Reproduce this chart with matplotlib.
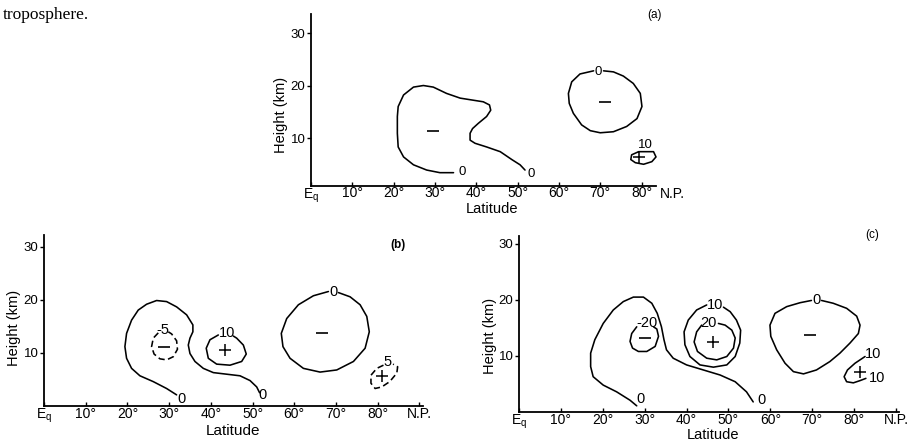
import matplotlib
matplotlib.use('Agg')
import matplotlib.pyplot as plt

plt.rcParams['font.family'] = ['Liberation Sans', 'DejaVu Sans']

# --- contour outlines, (latitude in deg, height in km) ---

# panel (a)
a_zero_west = [(34.5, 3.4), (31.2, 3.4), (28.0, 3.9), (24.8, 4.9), (22.4, 6.4), (21.1, 8.3),
               (20.9, 10.9), (20.9, 14.1), (21.1, 16.0), (22.4, 18.2), (24.8, 19.7), (27.2, 20.0),
               (29.6, 19.7), (32.8, 18.5), (36.1, 17.6), (39.3, 17.2), (41.7, 16.9), (43.2, 16.3),
               (43.5, 15.3), (42.5, 14.1), (40.5, 12.8), (39.1, 11.8), (38.5, 10.9), (38.5, 9.6),
               (39.7, 9.0), (42.5, 8.3), (45.8, 7.4), (48.6, 5.9), (50.6, 4.9), (51.8, 3.9)]
a_zero_east = [(68.4, 22.8), (65.1, 22.2), (63.1, 20.7), (62.3, 18.5), (62.5, 16.6), (63.5, 14.7),
               (65.5, 12.5), (67.6, 11.4), (70.0, 11.0), (73.2, 11.2), (76.4, 12.2), (78.9, 13.7),
               (80.1, 16.0), (79.7, 18.5), (78.0, 20.4), (75.6, 21.8), (73.2, 22.6), (70.8, 22.8)]
a_plus10 = [(79.3, 7.4), (77.6, 6.8), (77.4, 5.9), (78.5, 5.3), (80.5, 5.0), (82.5, 5.5),
            (83.5, 6.4), (82.9, 7.4), (79.3, 7.4)]
a_labels = [(36.5, 3.5, '0'), (53.4, 3.1, '0'), (69.6, 22.6, '0'), (81.0, 8.6, '10')]
a_minus = [(29.6, 11.4), (71.2, 16.8)]
a_plus = [(79.3, 6.4)]

# panel (b)
b_zero_west = [(31.8, 2.1), (29.4, 3.3), (26.2, 4.6), (23.0, 5.7), (21.0, 7.1), (19.8, 9.0),
               (19.4, 11.2), (19.8, 13.7), (21.0, 16.2), (22.6, 18.1), (24.6, 19.2), (27.0, 19.9),
               (29.4, 19.7), (31.8, 18.7), (34.2, 17.2), (35.7, 15.3), (35.7, 14.0), (35.0, 12.8),
               (34.6, 11.5), (35.0, 9.9), (36.2, 8.4), (38.2, 7.1), (40.6, 6.3), (43.8, 6.0),
               (47.0, 5.7), (49.4, 4.8), (51.0, 3.6), (51.7, 2.5)]
b_minus5 = [(27.4, 13.8), (26.2, 12.8), (25.8, 11.2), (26.4, 9.8), (27.8, 8.9), (29.4, 8.7),
            (31.0, 9.3), (32.0, 10.7), (31.8, 12.3), (30.6, 13.6), (29.8, 14.0)]
b_plus10 = [(41.8, 13.4), (39.8, 12.5), (38.9, 10.9), (39.4, 9.0), (41.4, 7.9), (44.6, 7.7),
            (47.4, 8.4), (48.5, 9.8), (47.8, 11.5), (46.2, 12.8), (45.4, 13.2)]
b_zero_east = [(68.2, 21.6), (64.6, 20.8), (61.0, 19.1), (58.2, 16.5), (56.9, 13.7), (57.3, 11.2),
               (59.0, 9.0), (62.2, 7.1), (66.2, 6.4), (70.2, 6.8), (74.2, 8.4), (77.0, 10.9),
               (78.0, 14.0), (77.4, 16.9), (75.8, 19.1), (73.4, 20.6), (70.6, 21.4)]
b_plus5 = [(81.4, 7.7), (79.8, 7.1), (78.4, 5.8), (78.4, 4.3), (79.4, 3.3), (81.0, 3.6),
           (82.9, 4.6), (84.6, 6.2), (84.8, 7.4), (83.7, 7.9)]
b_labels = [(33.0, 1.4, '0'), (52.5, 2.1, '0'), (28.6, 14.3, '-5'), (43.8, 13.8, '10'),
            (69.4, 21.6, '0'), (82.4, 8.3, '5')]
b_minus = [(28.8, 11.2), (66.6, 13.7)]
b_plus = [(43.4, 10.6), (81.0, 5.7)]

# panel (c)
c_zero_west = [(28.1, 1.1), (26.5, 2.1), (23.3, 3.6), (20.1, 4.8), (17.7, 6.3), (17.1, 8.1),
               (17.1, 10.5), (18.1, 12.9), (20.1, 15.8), (22.5, 18.2), (24.9, 19.7), (27.3, 20.5),
               (29.7, 20.5), (31.7, 19.4), (33.0, 17.6), (34.0, 15.2), (34.6, 12.9), (35.2, 11.1),
               (36.8, 9.6), (40.0, 8.4), (44.0, 7.5), (48.0, 6.6), (51.6, 5.4), (54.3, 3.6),
               (55.9, 1.8)]
c_minus20 = [(28.1, 15.2), (26.9, 14.0), (26.5, 12.6), (27.1, 11.4), (28.5, 10.8), (30.5, 10.8),
             (32.5, 11.7), (33.3, 13.5), (32.9, 14.8), (32.1, 15.2)]
c_plus10 = [(44.8, 19.1), (42.4, 18.2), (40.4, 16.4), (39.4, 14.3), (39.6, 12.0), (40.8, 9.9),
            (43.2, 8.4), (46.4, 8.0), (49.6, 8.4), (51.6, 9.9), (52.7, 12.3), (52.9, 14.6),
            (51.9, 16.4), (50.4, 17.9), (48.8, 18.7)]
c_plus20 = [(43.6, 15.5), (42.4, 14.3), (41.8, 12.5), (42.6, 10.8), (44.8, 9.6), (47.2, 9.3),
            (49.6, 9.9), (51.2, 11.4), (51.6, 13.2), (50.8, 14.6), (49.2, 15.5), (47.6, 15.8)]
c_zero_east = [(69.8, 19.9), (67.1, 19.5), (63.9, 18.8), (61.1, 17.6), (59.9, 15.5), (60.1, 13.5),
               (61.5, 11.1), (63.5, 8.7), (65.5, 7.2), (67.9, 6.8), (71.0, 7.5), (74.2, 9.0),
               (76.6, 10.5), (79.0, 12.3), (81.0, 14.0), (81.4, 15.5), (80.6, 17.1), (78.2, 18.5),
               (75.0, 19.4), (72.2, 19.9)]
c_plus10_np = [(82.6, 9.9), (80.2, 8.7), (78.4, 7.5), (77.6, 6.3), (78.2, 5.4), (79.8, 5.2),
               (81.4, 5.6), (82.8, 6.0)]
c_labels = [(28.9, 2.3, '0'), (57.9, 2.1, '0'), (30.5, 15.8, '-20'), (46.8, 19.1, '10'),
            (45.2, 15.8, '20'), (71.0, 20.0, '0'), (84.6, 10.4, '10'), (85.4, 6.0, '10')]
c_minus = [(30.1, 13.2), (69.5, 13.8)]
c_plus = [(46.4, 12.4), (81.4, 7.2)]

lat_ticks = [0, 10, 20, 30, 40, 50, 60, 70, 80]
lat_labels = ['E$_\\mathregular{q}$', '10°', '20°', '30°', '40°', '50°', '60°', '70°', '80°']
height_ticks = [10, 20, 30]

TICK_SIZE = 10

W, H = 912, 441
fig = plt.figure(figsize=(W / 100, H / 100), dpi=100)


def px_axes(left, right, top, bottom):
    return fig.add_axes([left / W, 1 - bottom / H, (right - left) / W, (bottom - top) / H])


def fig_text(x, y, s, **kw):
    fig.text(x / W, 1 - y / H, s, **kw)


def setup(ax, xmax, ylim, np_tick):
    ax.set_xlim(0, xmax)
    ax.set_ylim(*ylim)
    for side in ['top', 'right']:
        ax.spines[side].set_visible(False)
    for side in ['left', 'bottom']:
        ax.spines[side].set_linewidth(1.3)
    ticks, labels = list(lat_ticks), list(lat_labels)
    if np_tick:
        ticks.append(90)
        labels.append('N.P.')
    ax.set_xticks(ticks, labels)
    ax.set_yticks(height_ticks)
    ax.tick_params(axis='x', direction='in', length=3, width=1, pad=0.5, labelsize=TICK_SIZE)
    ax.tick_params(axis='y', direction='out', length=3, width=1, pad=1, labelsize=9.5)
    ax.patch.set_visible(False)


def draw(ax, curves, labels, minus, plus, dashed=(), lsize=10.5):
    for c in curves:
        ls = (0, (4, 2.2)) if any(c is d for d in dashed) else '-'
        ax.plot([p[0] for p in c], [p[1] for p in c], color='black', lw=1.15, ls=ls,
                solid_joinstyle='round', solid_capstyle='round', clip_on=False)
    for x, y, s in labels:
        ax.text(x, y, s, fontsize=lsize, ha='center', va='center')
    ax.plot([p[0] for p in minus], [p[1] for p in minus], ls='none', marker='_',
            ms=9, mew=1.2, color='black')
    ax.plot([p[0] for p in plus], [p[1] for p in plus], ls='none', marker='+',
            ms=8, mew=1.1, color='black')


# panel (a)
ax_a = px_axes(311, 656, 13.6, 185.8)
setup(ax_a, 83.5, (0.9, 33.7), False)
draw(ax_a, [a_zero_west, a_zero_east, a_plus10], a_labels, a_minus, a_plus, lsize=9.5)
ax_a.text(87.5, 0.6, 'N.P.', fontsize=TICK_SIZE, ha='center', va='top')

# panel (b)
ax_b = px_axes(44, 423.5, 234.8, 406)
setup(ax_b, 91, (0, 32.3), True)
draw(ax_b, [b_zero_west, b_minus5, b_plus10, b_zero_east, b_plus5], b_labels, b_minus,
     b_plus, dashed=(b_minus5, b_plus5))

# panel (c)
ax_c = px_axes(519, 899, 236, 412)
setup(ax_c, 90.7, (0, 31.4), True)
draw(ax_c, [c_zero_west, c_minus20, c_plus10, c_plus20, c_zero_east, c_plus10_np],
     c_labels, c_minus, c_plus)

# titles, axis names and the leftover caption text
fig_text(3, 15, 'troposphere.', family='Liberation Serif', fontsize=12.5, va='center')
fig_text(655, 15, '(a)', fontsize=8.5, ha='center', va='center')
fig_text(398, 245, '(b)', fontsize=8.5, ha='center', va='center', weight='bold')
fig_text(872, 235, '(c)', fontsize=8.5, ha='center', va='center')
fig_text(281, 115, 'Height (km)', fontsize=10.5, rotation=90, ha='center', va='center')
fig_text(14, 328, 'Height (km)', fontsize=10.5, rotation=90, ha='center', va='center')
fig_text(490, 336, 'Height (km)', fontsize=10.5, rotation=90, ha='center', va='center')
fig_text(492, 209, 'Latitude', fontsize=10.5, ha='center', va='center')
fig_text(233, 431, 'Latitude', fontsize=11, ha='center', va='center')
fig_text(713, 435, 'Latitude', fontsize=10.5, ha='center', va='center')

fig.savefig('out.png', dpi=100)
